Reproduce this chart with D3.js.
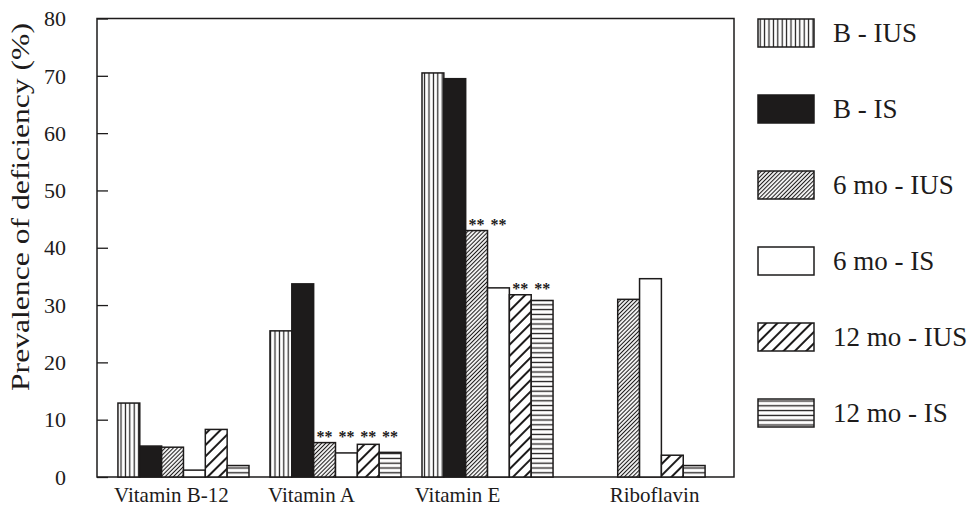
<!DOCTYPE html>
<html>
<head>
<meta charset="utf-8">
<script src="https://cdn.jsdelivr.net/npm/d3@7"></script>
<style>
  html, body { margin: 0; padding: 0; background: #fff; }
  svg { display: block; font-family: "Liberation Serif", "Times New Roman", serif; }
</style>
</head>
<body>
<div id="chart"></div>
<script>
// data
const categories = ["Vitamin B-12", "Vitamin A", "Vitamin E", "Riboflavin"];
const seriesNames = ["B - IUS", "B - IS", "6 mo - IUS", "6 mo - IS", "12 mo - IUS", "12 mo - IS"];
const bIUS   = [12.9, 25.5, 70.5, 0];
const bIS    = [5.4, 33.7, 69.5, 0];
const m6IUS  = [5.2, 6.0, 43.0, 31.0];
const m6IS   = [1.2, 4.2, 33.0, 34.6];
const m12IUS = [8.3, 5.7, 31.8, 3.8];
const m12IS  = [2.0, 4.3, 30.8, 2.0];
const yTicks = [0, 10, 20, 30, 40, 50, 60, 70, 80];
const sigGroups = [
    {cat: "Vitamin A", series: ["6 mo - IUS", "6 mo - IS", "12 mo - IUS", "12 mo - IS"]},
    {cat: "Vitamin E", series: ["6 mo - IUS", "6 mo - IS"]},
    {cat: "Vitamin E", series: ["12 mo - IUS", "12 mo - IS"]}
];

const allValues = [bIUS, bIS, m6IUS, m6IS, m12IUS, m12IS];
const ink = "#1d1b1b";
// the category labels in the original are not centred under their groups
const labelShift = [-12, -24, -30, 15];

const svg = d3.select("#chart")
    .append("svg")
    .attr("width", 967)
    .attr("height", 510);

// hatch patterns
const defs = svg.append("defs");

function linePattern(id, size, angle, width) {
    const p = defs.append("pattern")
        .attr("id", id)
        .attr("patternUnits", "userSpaceOnUse")
        .attr("width", size)
        .attr("height", size)
        .attr("patternTransform", "rotate(" + angle + ")");
    p.append("rect").attr("width", size).attr("height", size).attr("fill", "#fff");
    p.append("line")
        .attr("x1", size / 2).attr("y1", 0)
        .attr("x2", size / 2).attr("y2", size)
        .attr("stroke", ink)
        .attr("stroke-width", width);
}
linePattern("vert", 4.4, 0, 1.2);
linePattern("diagDense", 2.9, 45, 1.1);
linePattern("diagWide", 8, 45, 2);
linePattern("horiz", 4.8, 90, 1.3);

const fills = {
    "B - IUS": "url(#vert)",
    "B - IS": ink,
    "6 mo - IUS": "url(#diagDense)",
    "6 mo - IS": "#fff",
    "12 mo - IUS": "url(#diagWide)",
    "12 mo - IS": "url(#horiz)"
};

const margin = {left: 97, right: 734, top: 18.5, bottom: 477};

const x0 = d3.scaleBand()
    .domain(categories)
    .range([margin.left, margin.right])
    .paddingInner(0.138)
    .paddingOuter(0.164)
    .align(0.42);

const x1 = d3.scaleBand()
    .domain(seriesNames)
    .range([0, x0.bandwidth()]);

const y = d3.scaleLinear()
    .domain([0, 80])
    .range([margin.bottom, margin.top]);

// frame
svg.append("rect")
    .attr("x", margin.left)
    .attr("y", margin.top)
    .attr("width", margin.right - margin.left)
    .attr("height", margin.bottom - margin.top)
    .attr("fill", "none")
    .attr("stroke", ink)
    .attr("stroke-width", 1.5);

// y axis with inside ticks
const yAxis = svg.append("g")
    .attr("transform", "translate(" + margin.left + ",0)")
    .call(d3.axisRight(y).tickValues(yTicks).tickSize(11).tickFormat(""));
yAxis.select(".domain").remove();
yAxis.selectAll("line").attr("stroke", ink).attr("stroke-width", 1.3);

svg.append("g")
    .selectAll("text")
    .data(yTicks)
    .join("text")
    .attr("x", 66)
    .attr("y", d => y(d))
    .attr("dy", "0.35em")
    .attr("text-anchor", "end")
    .attr("font-size", 22)
    .attr("fill", ink)
    .text(d => d);

svg.append("text")
    .attr("transform", "translate(29,207) rotate(-90)")
    .attr("text-anchor", "middle")
    .attr("font-size", 26)
    .attr("textLength", 368)
    .attr("lengthAdjust", "spacingAndGlyphs")
    .attr("fill", ink)
    .text("Prevalence of deficiency (%)");

// bars
const rows = [];
seriesNames.forEach((s, si) => {
    categories.forEach((c, ci) => {
        rows.push({cat: c, series: s, value: allValues[si][ci]});
    });
});

svg.append("g")
    .selectAll("rect")
    .data(rows.filter(d => d.value > 0))
    .join("rect")
    .attr("x", d => x0(d.cat) + x1(d.series))
    .attr("y", d => y(d.value))
    .attr("width", x1.bandwidth())
    .attr("height", d => y(0) - y(d.value))
    .attr("fill", d => fills[d.series])
    .attr("stroke", ink)
    .attr("stroke-width", 1.5);

// significance marks
const valueOf = (c, s) => allValues[seriesNames.indexOf(s)][categories.indexOf(c)];
sigGroups.forEach(g => {
    const top = d3.max(g.series, s => valueOf(g.cat, s));
    svg.append("g")
        .selectAll("text")
        .data(g.series)
        .join("text")
        .attr("x", s => x0(g.cat) + x1(s) + x1.bandwidth() / 2)
        .attr("y", y(top) - 1)
        .attr("text-anchor", "middle")
        .attr("font-size", 16)
        .attr("font-weight", "bold")
        .attr("fill", ink)
        .text("**");
});

// category labels
svg.append("g")
    .selectAll("text")
    .data(categories)
    .join("text")
    .attr("x", (d, i) => x0(d) + x0.bandwidth() / 2 + labelShift[i])
    .attr("y", 502)
    .attr("text-anchor", "middle")
    .attr("font-size", 21)
    .attr("fill", ink)
    .text(d => d);

// legend
const ly = d3.scalePoint()
    .domain(seriesNames)
    .range([33, 413]);

const legend = svg.append("g")
    .selectAll("g")
    .data(seriesNames)
    .join("g")
    .attr("transform", d => "translate(758," + ly(d) + ")");

legend.append("rect")
    .attr("x", 0)
    .attr("y", -14)
    .attr("width", 56)
    .attr("height", 28)
    .attr("fill", d => fills[d])
    .attr("stroke", ink)
    .attr("stroke-width", 1.5);

legend.append("text")
    .attr("x", 75)
    .attr("dy", "0.35em")
    .attr("font-size", 27)
    .attr("fill", ink)
    .text(d => d);
</script>
</body>
</html>
